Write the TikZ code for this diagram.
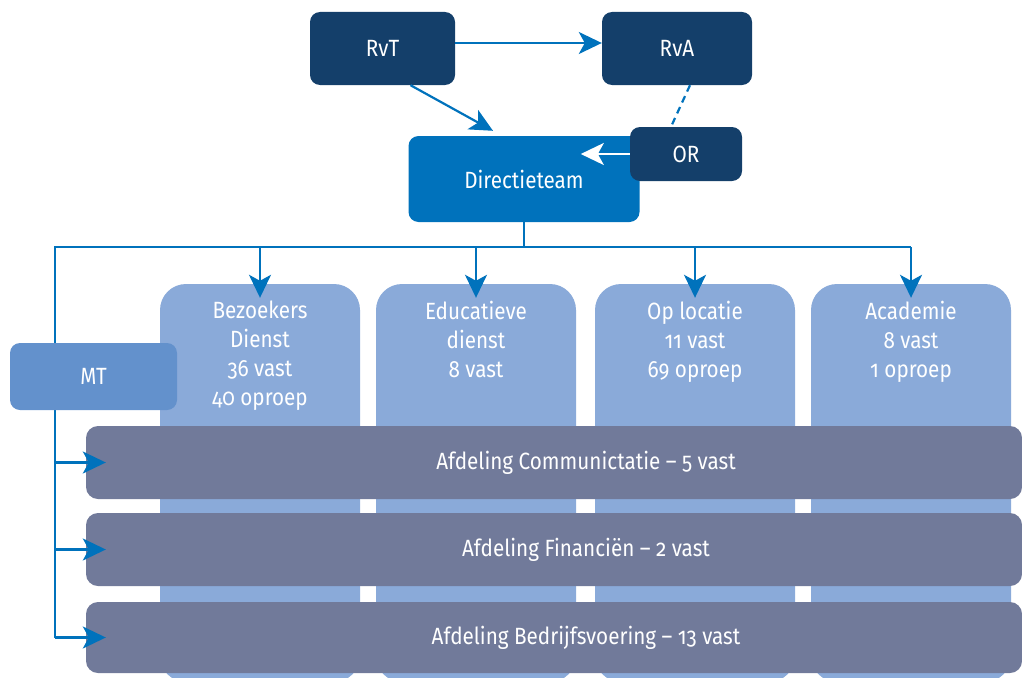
\documentclass[tikz,border=0pt]{standalone}
\usepackage{fontspec}
\setmainfont{Fira Sans}[Numbers=OldStyle, FakeStretch=0.88]
\usetikzlibrary{arrows.meta, calc}
\definecolor{CNavy}{HTML}{143F6A}
\definecolor{CBlue}{HTML}{0072BC}
\definecolor{CMid}{HTML}{6391CC}
\definecolor{CLight}{HTML}{8AAAD9}
\definecolor{CSlate}{HTML}{717A9A}

\begin{document}
\begin{tikzpicture}[x=1pt, y=-1pt,
    box/.style={rounded corners=10pt, text=white, font=\fontsize{23.5}{29}\selectfont, inner sep=0pt},
    colbox/.style={fill=CLight, rounded corners=26pt, minimum width=200pt, minimum height=398pt, inner sep=0pt},
    barbox/.style={fill=CSlate, rounded corners=12pt, minimum width=936pt, inner sep=0pt},
    conn/.style={CBlue, line width=2.2pt},
    arr/.style={conn, -{Stealth[length=23pt, width=22pt, inset=6pt]}}]
    \useasboundingbox (0,0) rectangle (1022,677);

    % --- Top level ---
    \node[box, fill=CNavy, minimum width=145pt, minimum height=73pt] (RvT) at (382.5,48.5) {RvT};
    \node[box, fill=CNavy, minimum width=150pt, minimum height=73pt] (RvA) at (677,48.5) {RvA};
    \node[box, fill=CBlue, minimum width=231pt, minimum height=86pt] (Dir) at (524,179) {\raisebox{-2pt}{Directieteam}};
    \node[box, fill=CNavy, minimum width=112pt, minimum height=54pt] (OR) at (686,154) {OR};

    \draw[arr] ($(RvT.east)+(0,-5.5)$) -- ($(RvA.west)+(0,-5.5)$);
    \draw[arr] ($(RvT.south)+(28,0)$) -- ($(Dir.north)+(-31,-5)$);
    \draw[conn, dash pattern=on 7pt off 5pt] ($(RvA.south)+(13,0)$) -- ($(OR.north)+(-15,0)$);
    \draw[arr, white] (OR.west) -- ++(-49,0);

    % --- Bus lines ---
    \coordinate (BusL) at (55,247);
    \coordinate (BusR) at (911,247);
    \draw[conn] (Dir.south) -- (Dir.south |- BusL);
    \draw[conn] (BusR) -- (BusL) -- (55,637.5);

    % --- Departments (columns) ---
    \node[colbox, label={[anchor=north, yshift=-14pt, align=center, text=white, font=\fontsize{23.5}{29}\selectfont]north:Bezoekers\\Dienst\\36 vast\\40 oproep}] (ColA) at (260,483) {};
    \node[colbox, label={[anchor=north, yshift=-14pt, align=center, text=white, font=\fontsize{23.5}{29}\selectfont]north:Educatieve\\dienst\\8 vast}] (ColB) at (476,483) {};
    \node[colbox, label={[anchor=north, yshift=-14pt, align=center, text=white, font=\fontsize{23.5}{29}\selectfont]north:Op locatie\\11 vast\\69 oproep}] (ColC) at (695,483) {};
    \node[colbox, label={[anchor=north, yshift=-14pt, align=center, text=white, font=\fontsize{23.5}{29}\selectfont]north:Academie\\8 vast\\1 oproep}] (ColD) at (911,483) {};

    % --- Support departments (bars) ---
    \node[barbox, minimum height=73pt, label={[xshift=32pt, text=white, font=\fontsize{23.5}{29}\selectfont]center:Afdeling Communictatie -- 5 vast}] (BarA) at (554,462.5) {};
    \node[barbox, minimum height=73pt, label={[xshift=32pt, text=white, font=\fontsize{23.5}{29}\selectfont]center:Afdeling Financiën -- 2 vast}] (BarB) at (554,549.5) {};
    \node[barbox, minimum height=71pt, label={[xshift=32pt, text=white, font=\fontsize{23.5}{29}\selectfont]center:Afdeling Bedrijfsvoering -- 13 vast}] (BarC) at (554,637.5) {};

    \node[box, fill=CMid, minimum width=167pt, minimum height=67pt] (MT) at (93.5,376.5) {\raisebox{-3pt}{MT}};

    % --- Arrows ---
    \foreach \c in {ColA,ColB,ColC,ColD} {
        \draw[arr] (BusL -| \c.north) -- ($(\c.north)+(0,14)$);
    }
    \foreach \b in {BarA,BarB,BarC} {
        \draw[arr] (BusL |- \b.west) -- ($(\b.west)+(20,0)$);
    }
\end{tikzpicture}
\end{document}
